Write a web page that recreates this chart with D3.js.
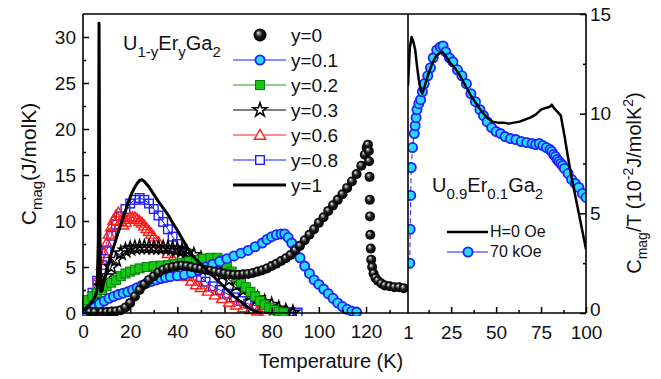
<!DOCTYPE html>
<html>
<head>
<meta charset="utf-8">
<script src="https://cdn.jsdelivr.net/npm/d3@7"></script>
<style>
  body { margin: 0; background: #fff; }
  svg { font-family: "Liberation Sans", Arial, sans-serif; }
</style>
</head>
<body>
<svg id="chart" width="661" height="379"></svg>
<script>
// ---- data: [T (K), value] ----
const y0Data = [[3,0.1],[5,0.1],[8,0.1],[10,0.1],[12,0.15],[14,0.2],[16,0.3],[18,0.6],[20,1.1],[22,1.8],[24,2.5],[26,3.1],[28,3.6],[30,4.0],[32,4.4],[34,4.7],[36,4.9],[38,5.0],[40,5.1],[42,5.15],[44,5.1],[46,5.0],[48,4.9],[50,4.8],[52,4.7],[54,4.6],[56,4.5],[58,4.4],[60,4.3],[62,4.2],[64,4.15],[66,4.15],[68,4.2],[70,4.25],[72,4.35],[74,4.5],[76,4.65],[78,4.85],[80,5.1],[82,5.35],[84,5.65],[86,5.95],[88,6.3],[90,6.8],[92,7.3],[94,7.9],[96,8.5],[98,9.1],[100,9.8],[102,10.4],[104,11.1],[106,11.7],[108,12.3],[110,12.9],[112,13.6],[114,14.3],[116,15.1],[118,16.0],[119.5,17.2],[120.3,18.0],[120.8,18.3],[121.2,17.6],[121.3,16.5],[121.5,14.8],[121.6,12.3],[121.7,10.5],[121.8,8.5],[122,7.0],[122.2,5.8],[122.6,5.0],[123.2,4.3],[124,3.8],[125,3.5],[126.5,3.2],[128,3.0],[130,2.9],[132,2.8],[134,2.8],[136,2.7]];

const y01Data = [[1.5,0.1],[3,0.3],[5,0.6],[7,1.0],[9,1.3],[11,1.6],[13,1.8],[15,2.0],[17,2.15],[19,2.3],[21,2.5],[23,2.75],[25,3.0],[27,3.25],[29,3.45],[31,3.6],[33,3.75],[35,3.85],[37,3.95],[40,4.05],[43,4.15],[46,4.35],[49,4.65],[52,5.0],[55,5.3],[58,5.6],[61,5.9],[64,6.2],[67,6.5],[70,6.8],[73,7.2],[76,7.6],[78,8.0],[80,8.3],[82,8.5],[84,8.6],[85.5,8.6],[87,8.2],[88.5,7.6],[90,6.9],[92,6.0],[94,5.1],[96,4.3],[98,3.6],[100,3.1],[102,2.6],[104,2.1],[106,1.6],[108,1.1],[110,0.7],[112,0.4],[114,0.2],[116,0.1]];

const y02Data = [[0,0.8],[2,1.4],[4,1.8],[6,2.2],[8,2.5],[10,2.9],[12,3.3],[14,3.6],[16,4.0],[18,4.3],[20,4.5],[22,4.7],[24,4.85],[27,5.0],[30,5.1],[33,5.15],[36,5.2],[39,5.3],[42,5.45],[45,5.6],[48,5.75],[51,5.9],[54,6.0],[57,6.0],[59,5.7],[61,5.1],[63,4.5],[65,3.9],[67,3.3],[69,2.8],[71,2.3],[73,1.8],[75,1.3],[77,0.9],[79,0.6],[81,0.35],[83,0.15],[85,0.05]];

const y03Data = [[0,0.5],[2,1.0],[4,1.5],[6,2.0],[8,2.9],[10,4.0],[12,5.0],[14,5.8],[16,6.5],[18,6.8],[20,7.0],[22,7.1],[24,7.15],[26,7.15],[28,7.15],[30,7.1],[32,7.1],[34,7.1],[36,7.05],[38,7.0],[40,6.9],[42,6.75],[44,6.6],[47,6.3],[50,5.9],[53,5.4],[56,4.8],[59,4.2],[62,3.6],[65,3.0],[68,2.5],[71,2.0],[74,1.6],[77,1.2],[80,0.9],[83,0.5],[86,0.2],[89,0.05]];

const y06Data = [[0,0.5],[2,1.0],[4,1.8],[6,3.0],[7,4.0],[8,5.2],[9,6.5],[10,7.6],[11,8.6],[12,9.4],[13,10.1],[14,10.6],[15,10.9],[16,10.0],[17,9.6],[18,9.9],[19,10.2],[20,10.4],[21,10.4],[22,10.4],[23,10.2],[24,10.0],[25,9.8],[26,9.5],[27,9.2],[28,8.9],[29,8.6],[30,8.3],[32,7.7],[34,7.1],[36,6.5],[38,5.9],[40,5.2],[42,4.6],[44,4.0],[46,3.5],[48,3.1],[50,2.8],[53,2.4],[56,2.0],[59,1.6],[62,1.2],[65,0.9],[68,0.6],[71,0.4],[74,0.25],[77,0.1]];

const y08Data = [[0,0.5],[2,1.2],[4,2.2],[6,3.5],[8,5.2],[10,6.8],[12,8.4],[14,9.6],[16,10.5],[18,11.3],[20,11.9],[22,12.3],[24,12.5],[26,12.3],[28,11.9],[30,11.3],[32,10.6],[34,9.9],[36,9.1],[38,8.3],[40,7.5],[42,6.8],[44,6.1],[46,5.3],[48,4.5],[50,3.9],[52,3.4],[55,2.9],[58,2.5],[61,2.1],[64,1.7],[67,1.3],[70,1.0],[73,0.8],[76,0.6],[79,0.45],[82,0.3],[85,0.2],[88,0.1],[91,0.05]];

const y1Data = [[0,0.3],[2,0.7],[4,1.3],[5,1.7],[6,2.5],[6.5,8],[6.8,31.5],[7.1,10],[7.5,2.3],[8,2.4],[9,3.5],[10,4.7],[11,5.6],[12,6.4],[13,7.2],[14,8.0],[15,8.8],[16,9.6],[17,10.4],[18,11.1],[19,11.9],[20,12.6],[21,13.2],[22,13.7],[23,14.1],[24,14.4],[25,14.5],[26,14.3],[27,14.0],[28,13.7],[29,13.3],[30,12.9],[32,12.1],[34,11.4],[36,10.7],[38,9.8],[40,9.0],[42,8.1],[44,7.2],[46,6.4],[48,5.8],[50,5.3],[52,4.8],[54,4.3],[56,3.8],[58,3.3],[60,2.8],[62,2.3],[64,1.8],[66,1.4],[68,1.0],[70,0.6],[72,0.3],[74,0.1],[76,0.02]];

// right panel: Cmag/T (10^-2 J/molK^2) for U0.9Er0.1Ga2
const h0Data = [[1,11.4],[2,13.3],[3,13.85],[4,13.6],[5,13.2],[6,12.4],[7,11.7],[8,11.2],[9,11.0],[10,11.3],[12,11.9],[14,12.4],[16,12.8],[18,13.0],[20,13.1],[22,12.9],[24,12.6],[27,12.3],[30,11.9],[33,11.4],[36,10.9],[39,10.5],[42,10.1],[45,9.8],[48,9.6],[51,9.55],[54,9.55],[57,9.5],[60,9.55],[63,9.6],[66,9.7],[69,9.8],[72,9.95],[75,10.2],[78,10.3],[80,10.35],[81,10.45],[82,10.3],[84,10.1],[86,9.9],[88,8.9],[90,7.8],[92,6.8],[94,5.9],[96,5.0],[98,4.1],[100,3.2]];

const h70Data = [[2,2.5],[2.2,4.2],[2.5,5.9],[2.8,7.3],[3.5,8.3],[4.5,9.0],[5,9.4],[5.5,9.8],[6,10.2],[7,10.5],[8,10.7],[9,11.1],[10,11.5],[12,11.9],[13.5,12.3],[15,12.8],[17,13.2],[19,13.35],[20.5,13.4],[22,13.1],[24,12.8],[26,12.6],[28.5,12.2],[31,11.9],[33.5,11.5],[36,11.0],[38.5,10.6],[41,10.2],[43,9.9],[45,9.6],[47.5,9.3],[50,9.1],[52.5,9.0],[55,8.85],[58,8.75],[61,8.7],[64,8.6],[67,8.55],[70,8.5],[72,8.45],[74,8.5],[76,8.4],[78,8.3],[80,8.2],[81,8.1],[82,7.95],[83,7.85],[84,7.7],[85,7.6],[86,7.5],[87,7.4],[88,7.25],[90,7.0],[92,6.7],[94,6.5],[96,6.3],[98,6.0],[100,5.8]];

const legendLabels = ['y=0', 'y=0.1', 'y=0.2', 'y=0.3', 'y=0.6', 'y=0.8', 'y=1'];
const leftXTicks = [0, 20, 40, 60, 80, 100, 120];
const leftXMinor = [10, 30, 50, 70, 90, 110, 130];
const leftYTicks = [0, 5, 10, 15, 20, 25, 30];
const leftYMinor = [2.5, 7.5, 12.5, 17.5, 22.5, 27.5];
const rightXTicks = [1, 25, 50, 75, 100];
const rightXMinor = [12.5, 37.5, 62.5, 87.5];
const rightYTicks = [0, 5, 10, 15];
const rightYMinor = [2.5, 7.5, 12.5];

const svg = d3.select('#chart');

// frame geometry
const frameTop = 14, frameBottom = 313, frameLeft = 83, frameMid = 408, frameRight = 586;

const xL = d3.scaleLinear().domain([0, 137.8]).range([frameLeft, frameMid]);
const yL = d3.scaleLinear().domain([0, 32.5]).range([frameBottom, frameTop]);
const xR = d3.scaleLinear().domain([1, 100]).range([frameMid, frameRight]);
const yR = d3.scaleLinear().domain([0, 15]).range([frameBottom, frameTop]);

// defs: sphere gradient + clip paths
const defs = svg.append('defs');
const grad = defs.append('radialGradient').attr('id', 'sphere')
  .attr('cx', '50%').attr('cy', '50%').attr('r', '50%').attr('fx', '35%').attr('fy', '30%');
grad.append('stop').attr('offset', '0%').attr('stop-color', '#ffffff');
grad.append('stop').attr('offset', '18%').attr('stop-color', '#9a9a9a');
grad.append('stop').attr('offset', '50%').attr('stop-color', '#1c1c1c');
grad.append('stop').attr('offset', '100%').attr('stop-color', '#000');

defs.append('clipPath').attr('id', 'clipL').append('rect')
  .attr('x', frameLeft - 1).attr('y', 6).attr('width', frameMid - frameLeft + 1).attr('height', frameBottom - 6 + 3);
defs.append('clipPath').attr('id', 'clipR').append('rect')
  .attr('x', frameMid).attr('y', frameTop).attr('width', frameRight - frameMid).attr('height', frameBottom - frameTop + 3);

const line = (xs, ys) => d3.line().x(d => xs(d[0])).y(d => ys(d[1]));

// marker styles
const cyanFill = '#22dcff', blue = '#1f1fff', green = '#14c814', red = '#ff1a1a';

function drawMarker(g, kind, x, y) {
  if (kind === 'sphere') {
    g.append('circle').attr('cx', x).attr('cy', y).attr('r', 5).attr('fill', 'url(#sphere)');
  } else if (kind === 'circle') {
    g.append('circle').attr('cx', x).attr('cy', y).attr('r', 4.6)
      .attr('fill', cyanFill).attr('stroke', blue).attr('stroke-width', 1.8);
  } else if (kind === 'square') {
    g.append('rect').attr('x', x - 4.5).attr('y', y - 4.5).attr('width', 9).attr('height', 9)
      .attr('fill', green).attr('stroke', '#0a7a0a').attr('stroke-width', 1);
  } else if (kind === 'star') {
    g.append('path').attr('d', d3.symbol().type(d3.symbolStar).size(60)())
      .attr('transform', `translate(${x},${y})`)
      .attr('fill', 'none').attr('stroke', '#000').attr('stroke-width', 1.5);
  } else if (kind === 'triangle') {
    g.append('path').attr('d', d3.symbol().type(d3.symbolTriangle).size(55)())
      .attr('transform', `translate(${x},${y + 1})`)
      .attr('fill', 'none').attr('stroke', red).attr('stroke-width', 1.4);
  } else if (kind === 'osquare') {
    g.append('rect').attr('x', x - 4.3).attr('y', y - 4.3).attr('width', 8.6).attr('height', 8.6)
      .attr('fill', 'none').attr('stroke', blue).attr('stroke-width', 1.4);
  }
}

// ---- left panel data ----
const gL = svg.append('g').attr('clip-path', 'url(#clipL)');

const series = [
  { data: y08Data, kind: 'osquare', color: blue },
  { data: y06Data, kind: 'triangle', color: red },
  { data: y03Data, kind: 'star', color: '#000' },
  { data: y02Data, kind: 'square', color: '#2a9a2a' },
  { data: y01Data, kind: 'circle', color: blue },
  { data: y0Data, kind: 'sphere', color: null }
];

series.forEach(s => {
  if (s.color) {
    gL.append('path').attr('d', line(xL, yL)(s.data))
      .attr('fill', 'none').attr('stroke', s.color).attr('stroke-width', 1);
  }
  s.data.forEach(d => drawMarker(gL, s.kind, xL(d[0]), yL(d[1])));
});

gL.append('path').attr('d', line(xL, yL)(y1Data))
  .attr('fill', 'none').attr('stroke', '#000').attr('stroke-width', 3)
  .attr('stroke-linejoin', 'round');

// ---- right panel data ----
const gR = svg.append('g').attr('clip-path', 'url(#clipR)');
gR.append('path').attr('d', line(xR, yR)(h70Data))
  .attr('fill', 'none').attr('stroke', blue).attr('stroke-width', 1).attr('stroke-dasharray', '5,3');
h70Data.forEach(d => drawMarker(gR, 'circle', xR(d[0]), yR(d[1])));
gR.append('path').attr('d', line(xR, yR)(h0Data))
  .attr('fill', 'none').attr('stroke', '#000').attr('stroke-width', 2.5)
  .attr('stroke-linejoin', 'round');

// ---- axes ----
function styleAxis(g, fs) {
  g.selectAll('path').remove();
  g.selectAll('line').attr('stroke', '#000').attr('stroke-width', 1.5);
  g.selectAll('text').attr('font-size', fs).attr('fill', '#111')
    .attr('font-family', '"Liberation Sans", Arial, sans-serif');
}

const axL = svg.append('g').attr('transform', `translate(0,${frameBottom})`)
  .call(d3.axisBottom(xL).tickValues(leftXTicks).tickSize(-6).tickPadding(12).tickFormat(d3.format('d')));
styleAxis(axL, 19);
const axLm = svg.append('g').attr('transform', `translate(0,${frameBottom})`)
  .call(d3.axisBottom(xL).tickValues(leftXMinor).tickSize(-3).tickFormat(''));
styleAxis(axLm, 19);

const ayL = svg.append('g').attr('transform', `translate(${frameLeft},0)`)
  .call(d3.axisLeft(yL).tickValues(leftYTicks).tickSize(-6).tickPadding(7));
styleAxis(ayL, 19);
const ayLm = svg.append('g').attr('transform', `translate(${frameLeft},0)`)
  .call(d3.axisLeft(yL).tickValues(leftYMinor).tickSize(-3).tickFormat(''));
styleAxis(ayLm, 19);

const axR = svg.append('g').attr('transform', `translate(0,${frameBottom})`)
  .call(d3.axisBottom(xR).tickValues(rightXTicks).tickSize(-6).tickPadding(13));
styleAxis(axR, 19);
axR.selectAll('.tick').filter(d => d === 1).select('line').remove();
const axRm = svg.append('g').attr('transform', `translate(0,${frameBottom})`)
  .call(d3.axisBottom(xR).tickValues(rightXMinor).tickSize(-3).tickFormat(''));
styleAxis(axRm, 19);

const ayR = svg.append('g').attr('transform', `translate(${frameRight},0)`)
  .call(d3.axisRight(yR).tickValues(rightYTicks).tickSize(-6).tickPadding(4));
styleAxis(ayR, 19);
// lift the "0" a little so it clears the "100" below it
ayR.selectAll('.tick').filter(d => d === 0).select('text').attr('y', -4);
const ayRm = svg.append('g').attr('transform', `translate(${frameRight},0)`)
  .call(d3.axisRight(yR).tickValues(rightYMinor).tickSize(-3).tickFormat(''));
styleAxis(ayRm, 19);

// frame lines
const frame = svg.append('g').attr('stroke', '#000').attr('stroke-width', 1.6);
frame.append('line').attr('x1', frameLeft).attr('x2', frameRight).attr('y1', frameTop).attr('y2', frameTop);
frame.append('line').attr('x1', frameLeft).attr('x2', frameRight).attr('y1', frameBottom).attr('y2', frameBottom);
frame.append('line').attr('x1', frameLeft).attr('x2', frameLeft).attr('y1', frameTop).attr('y2', frameBottom);
frame.append('line').attr('x1', frameMid).attr('x2', frameMid).attr('y1', frameTop).attr('y2', frameBottom);
frame.append('line').attr('x1', frameRight).attr('x2', frameRight).attr('y1', frameTop).attr('y2', frameBottom);

// ---- axis titles ----
svg.append('text').attr('x', 331).attr('y', 368).attr('text-anchor', 'middle')
  .attr('font-size', 20).attr('fill', '#111').text('Temperature (K)');

const yTitleL = svg.append('text').attr('transform', 'translate(36,164) rotate(-90)')
  .attr('text-anchor', 'middle').attr('font-size', 21).attr('fill', '#111');
yTitleL.append('tspan').text('C');
yTitleL.append('tspan').attr('font-size', 15).attr('dy', 6).text('mag');
yTitleL.append('tspan').attr('dy', -6).text('(J/molK)');

const yTitleR = svg.append('text').attr('transform', 'translate(641,183) rotate(-90)')
  .attr('text-anchor', 'middle').attr('font-size', 20).attr('fill', '#111');
yTitleR.append('tspan').text('C');
yTitleR.append('tspan').attr('font-size', 14).attr('dy', 6).text('mag');
yTitleR.append('tspan').attr('dy', -6).text('/T (10');
yTitleR.append('tspan').attr('font-size', 14).attr('dy', -8).text('-2');
yTitleR.append('tspan').attr('dy', 8).text('J/molK');
yTitleR.append('tspan').attr('font-size', 14).attr('dy', -8).text('2');
yTitleR.append('tspan').attr('dy', 8).text(')');

// compound labels
function formula(x, y, parts) {
  const t = svg.append('text').attr('x', x).attr('y', y).attr('font-size', 20).attr('fill', '#111');
  let shifted = false;
  parts.forEach(([txt, sub]) => {
    const sp = t.append('tspan').text(txt);
    if (sub) sp.attr('font-size', 15);
    if (sub && !shifted) { sp.attr('dy', 7); shifted = true; }
    else if (!sub && shifted) { sp.attr('dy', -7); shifted = false; }
  });
}
formula(123, 50, [['U'], ['1-y', 1], ['Er'], ['y', 1], ['Ga'], ['2', 1]]);
formula(432, 192, [['U'], ['0.9', 1], ['Er'], ['0.1', 1], ['Ga'], ['2', 1]]);

// ---- left legend ----
const legKinds = ['sphere', 'circle', 'square', 'star', 'triangle', 'osquare', 'line'];
const legColors = [null, blue, '#2a9a2a', '#000', red, blue, '#000'];
const leg = svg.append('g');
legendLabels.forEach((lab, i) => {
  const cy = 35 + i * 25;
  if (legKinds[i] === 'line') {
    leg.append('line').attr('x1', 233).attr('x2', 286).attr('y1', cy).attr('y2', cy)
      .attr('stroke', '#000').attr('stroke-width', 3);
  } else {
    if (legColors[i]) {
      leg.append('line').attr('x1', 233).attr('x2', 286).attr('y1', cy).attr('y2', cy)
        .attr('stroke', legColors[i]).attr('stroke-width', 1);
    }
    if (legKinds[i] === 'sphere') {
      leg.append('circle').attr('cx', 260).attr('cy', cy).attr('r', 6.5).attr('fill', 'url(#sphere)');
    } else {
      // white backing so the line does not show through the open symbols
      leg.append('circle').attr('cx', 260).attr('cy', cy).attr('r', 4).attr('fill', '#fff');
      drawMarker(leg, legKinds[i], 260, cy);
    }
  }
  leg.append('text').attr('x', 291).attr('y', cy + 7).attr('font-size', 19).attr('fill', '#111').text(lab);
});

// ---- right legend ----
const legR = svg.append('g');
legR.append('line').attr('x1', 447).attr('x2', 488).attr('y1', 232).attr('y2', 232)
  .attr('stroke', '#000').attr('stroke-width', 2.5);
legR.append('text').attr('x', 490).attr('y', 237).attr('font-size', 16).attr('fill', '#111').text('H=0 Oe');
legR.append('line').attr('x1', 447).attr('x2', 488).attr('y1', 252).attr('y2', 252)
  .attr('stroke', blue).attr('stroke-width', 1);
drawMarker(legR, 'circle', 468, 252);
legR.append('text').attr('x', 490).attr('y', 257).attr('font-size', 16).attr('fill', '#111').text('70 kOe');
</script>
</body>
</html>
